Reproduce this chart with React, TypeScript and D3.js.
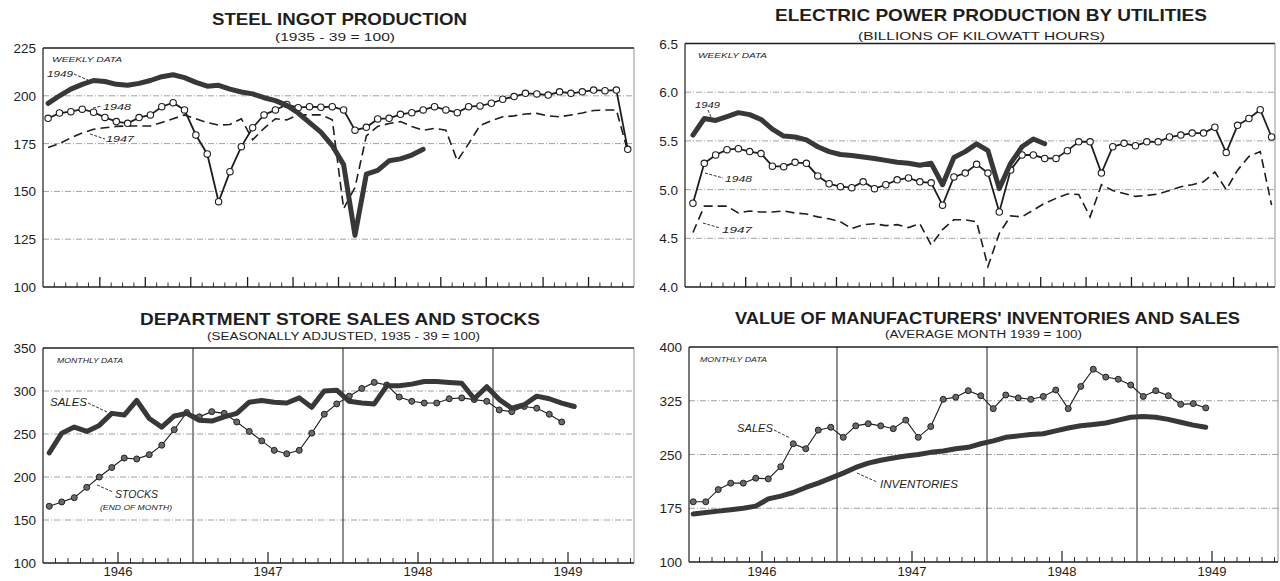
import React from 'react';
import * as d3 from 'd3';

// ---------- DATA ----------
const steelTicks = [100, 125, 150, 175, 200, 225];
const steel1949 = [196, 200, 203.5, 206, 208, 207.5, 206, 205.5, 206.5, 208, 210, 211, 209.5, 207, 205, 205.5, 203.5, 202, 201, 199, 197.5, 195, 191, 186, 181, 174, 164, 127, 159, 161, 166, 167, 169, 172];
const steel1948 = [188.2, 191, 191.7, 193, 191.4, 188.7, 186.5, 185.6, 188.6, 190, 194.3, 196.4, 192.6, 179.5, 169.6, 144.6, 160.3, 173.4, 183.3, 190, 192.6, 195.5, 193.8, 194.3, 194, 194.3, 192.6, 182, 183.5, 187.9, 188.2, 190.3, 191.2, 192.6, 194.3, 192.6, 191.2, 194.3, 194.7, 196.1, 198.2, 199.6, 201.3, 201, 200.4, 202.1, 201.3, 202.1, 203, 202.7, 203, 172];
const steel1947 = [173, 175, 178, 180.5, 182.5, 183.3, 184, 184.2, 184.2, 184.2, 186, 188, 190, 188, 186, 184.7, 185, 188, 177, 183, 188, 187.4, 190, 190, 190, 187.5, 141, 152, 179, 184, 185.5, 186.5, 184, 182, 183, 182, 166, 175, 184.5, 187, 189, 189.5, 190.5, 190.8, 189.5, 189, 190, 191, 192.3, 192.6, 192.6, 171];

const powerTicks = [4.0, 4.5, 5.0, 5.5, 6.0, 6.5];
const power1949 = [5.56, 5.73, 5.71, 5.75, 5.79, 5.77, 5.72, 5.62, 5.55, 5.54, 5.51, 5.44, 5.39, 5.36, 5.35, 5.335, 5.32, 5.30, 5.28, 5.27, 5.25, 5.27, 5.05, 5.33, 5.39, 5.47, 5.40, 5.01, 5.27, 5.44, 5.52, 5.47];
const power1948 = [4.86, 5.27, 5.355, 5.41, 5.42, 5.39, 5.37, 5.24, 5.235, 5.28, 5.27, 5.14, 5.06, 5.03, 5.02, 5.08, 5.01, 5.05, 5.10, 5.12, 5.08, 5.07, 4.84, 5.13, 5.17, 5.26, 5.17, 4.77, 5.20, 5.355, 5.355, 5.32, 5.32, 5.40, 5.49, 5.49, 5.17, 5.44, 5.475, 5.45, 5.49, 5.49, 5.54, 5.56, 5.58, 5.58, 5.64, 5.38, 5.66, 5.73, 5.82, 5.54];
const power1947 = [4.56, 4.83, 4.83, 4.83, 4.76, 4.78, 4.77, 4.77, 4.78, 4.76, 4.75, 4.72, 4.70, 4.67, 4.60, 4.64, 4.65, 4.63, 4.64, 4.61, 4.65, 4.43, 4.59, 4.69, 4.69, 4.67, 4.21, 4.55, 4.73, 4.72, 4.79, 4.86, 4.91, 4.955, 4.95, 4.72, 5.05, 4.99, 4.96, 4.93, 4.94, 4.955, 4.99, 5.03, 5.05, 5.08, 5.18, 5.00, 5.20, 5.34, 5.39, 4.84];

const monthBoundaryWeeks = [5, 9, 13, 18, 22, 26, 31, 35, 39, 44, 48];

const deptTicks = [100, 150, 200, 250, 300, 350];
const deptSales = [228, 251, 258, 253, 260, 274, 272, 289, 268, 258, 271, 274,
  266, 265, 270, 274, 287, 289, 287, 286, 292, 281, 300, 301,
  288, 286, 285, 306, 306, 308, 311, 311, 310, 309, 291, 305,
  290, 280, 284, 294, 291, 286, 282];
const deptStocks = [166, 171, 176, 188, 200, 211, 222, 221, 226, 237, 255, 275,
  270, 276, 274, 264, 253, 242, 231, 227, 231, 251, 273, 285,
  294, 303, 310, 307, 293, 288, 286, 286, 291, 292, 290, 288,
  278, 276, 282, 280, 273, 264];

const mfgTicks = [100, 175, 250, 325, 400];
const mfgSales = [184, 184, 201, 210, 210, 217, 216, 233, 265, 258, 284, 288,
  274, 290, 293, 290, 286, 298, 274, 289, 327, 330, 339, 332,
  314, 333, 329, 327, 331, 340, 314, 345, 369, 358, 355, 347,
  331, 339, 332, 320, 321, 315];
const mfgInventories = [167, 169, 171, 173, 175, 178, 188, 192, 197, 204, 210, 217,
  224, 232, 238, 242, 245, 248, 250, 253, 255, 258, 260, 265,
  269, 274, 276, 278, 279, 283, 287, 290, 292, 294, 298, 302,
  303, 302, 299, 295, 291, 288];

const yearLabels = ['1946', '1947', '1948', '1949'];

// ---------- STYLE ----------
const FONT = "'Liberation Sans', Arial, sans-serif";
const INK = '#1e1e1e';
const THICK = '#383838';
const GRID = '#8a8a8a';

type Ser = { values: number[]; kind: 'thick' | 'circle' | 'dash' | 'dot' };

function Frame({ left, right, top, bottom }: any) {
  return (
    <g>
      <line x1={left} x2={right} y1={top} y2={top} stroke={INK} strokeWidth={1.4} />
      <line x1={left} x2={left} y1={top} y2={bottom} stroke={INK} strokeWidth={1.2} />
      <line x1={right} x2={right} y1={top} y2={bottom} stroke="#777" strokeWidth={0.8} />
      <line x1={left} x2={right} y1={bottom} y2={bottom} stroke={INK} strokeWidth={1.5} />
    </g>
  );
}

function YAxis({ y, ticks, left, right, fmt }: any) {
  return (
    <g>
      {ticks.map((t: number, i: number) => (
        <g key={i}>
          {i > 0 && i < ticks.length - 1 && (
            <line x1={left} x2={right} y1={y(t)} y2={y(t)} stroke={GRID} strokeWidth={0.8} strokeDasharray="6 2 1 2" />
          )}
          <text x={left - 7} y={y(t) + 5} textAnchor="end" fontFamily={FONT} fontSize={13.5} fill={INK}>{fmt(t)}</text>
        </g>
      ))}
    </g>
  );
}

function drawSeries(s: Ser, px: (i: number) => number, y: any, key: string) {
  const line = d3.line<number>().x((_, i) => px(i)).y((v) => y(v));
  const d = line(s.values) || '';
  if (s.kind === 'thick') return <path key={key} d={d} fill="none" stroke={THICK} strokeWidth={5} strokeLinejoin="round" strokeLinecap="round" />;
  if (s.kind === 'dash') return <path key={key} d={d} fill="none" stroke={INK} strokeWidth={1.6} strokeDasharray="9 5" />;
  if (s.kind === 'circle') return (
    <g key={key}>
      <path d={d} fill="none" stroke={INK} strokeWidth={1.8} />
      {s.values.map((v, i) => <circle key={i} cx={px(i)} cy={y(v)} r={3.2} fill="#fff" stroke={INK} strokeWidth={1.1} />)}
    </g>
  );
  return (
    <g key={key}>
      <path d={d} fill="none" stroke={INK} strokeWidth={1.1} />
      {s.values.map((v, i) => <circle key={i} cx={px(i)} cy={y(v)} r={3} fill="#6a6a6a" stroke="#222" strokeWidth={1} />)}
    </g>
  );
}

function WeeklyPanel(p: any) {
  const x = d3.scaleLinear().domain([0, 52]).range([p.left, p.right]);
  const y = d3.scaleLinear().domain([p.ticks[0], p.ticks[p.ticks.length - 1]]).range([p.bottom, p.top]);
  const px = (i: number) => x(i + p.pointShift);
  const weekTicks = d3.range(1, 52);
  return (
    <g>
      <YAxis y={y} ticks={p.ticks} left={p.left} right={p.right} fmt={p.fmt} />
      {weekTicks.map((k) => {
        const xx = x(k + p.tickShift);
        const major = monthBoundaryWeeks.includes(k);
        return <line key={k} x1={xx} x2={xx} y1={p.bottom} y2={p.bottom - (major ? 10 : 4.5)} stroke={INK} strokeWidth={major ? 1.3 : 0.9} />;
      })}
      <Frame {...p} />
      {p.series.map((s: Ser, i: number) => drawSeries(s, px, y, 's' + i))}
    </g>
  );
}

function MonthlyPanel(p: any) {
  const months = (p.right - p.origin) / 12.5;
  const x = d3.scaleLinear().domain([0, months]).range([p.origin, p.right]);
  const y = d3.scaleLinear().domain([p.ticks[0], p.ticks[p.ticks.length - 1]]).range([p.bottom, p.top]);
  const px = (i: number) => x(i + 0.5);
  const mTicks = d3.range(1, Math.floor(months) + 1);
  return (
    <g>
      <YAxis y={y} ticks={p.ticks} left={p.left} right={p.right} fmt={(t: number) => String(t)} />
      {mTicks.map((k) => {
        const xx = x(k);
        if (k % 12 === 0) return <line key={k} x1={xx} x2={xx} y1={p.top} y2={p.bottom} stroke={INK} strokeWidth={1} />;
        const mid = k % 12 === 6;
        return <line key={k} x1={xx} x2={xx} y1={p.bottom} y2={p.bottom - (mid ? 11 : 5)} stroke={INK} strokeWidth={mid ? 1.2 : 0.9} />;
      })}
      {yearLabels.map((lab, i) => (
        <text key={lab} x={x(i * 12 + 6)} y={576} textAnchor="middle" fontFamily={FONT} fontSize={13} fill={INK}>{lab}</text>
      ))}
      <Frame {...p} />
      {p.series.map((s: Ser, i: number) => drawSeries(s, px, y, 's' + i))}
    </g>
  );
}

function Title({ x, y, w, size, text, bold }: any) {
  return (
    <text x={x} y={y} textLength={w} lengthAdjust="spacingAndGlyphs" fontFamily={FONT} fontSize={size} fontWeight={bold ? 'bold' : 'normal'} fill={INK}>{text}</text>
  );
}

function Note({ x, y, w, size, text }: any) {
  return (
    <text x={x} y={y} textLength={w} lengthAdjust="spacingAndGlyphs" fontFamily={FONT} fontSize={size} fontStyle="italic" fill={INK}>{text}</text>
  );
}

function Leader({ x1, y1, x2, y2 }: any) {
  return <line x1={x1} y1={y1} x2={x2} y2={y2} stroke={INK} strokeWidth={0.9} strokeDasharray="3 1.5" />;
}

export default function App() {
  return (
    <svg width={1280} height={581} style={{ position: 'absolute', left: 0, top: 0, background: '#fff' }}>
      <rect x={0} y={0} width={1280} height={581} fill="#fff" />
      {/* Steel */}
      <Title x={212} y={25} w={255} size={16.5} bold text="STEEL INGOT PRODUCTION" />
      <Title x={275} y={41} w={120} size={11.5} text="(1935 - 39 = 100)" />
      <WeeklyPanel left={43} right={634} top={48} bottom={287} ticks={steelTicks} fmt={(t: number) => String(t)}
        tickShift={0} pointShift={0.45}
        series={[{ values: steel1947, kind: 'dash' }, { values: steel1948, kind: 'circle' }, { values: steel1949, kind: 'thick' }]} />
      <Note x={52} y={62} w={70} size={7} text="WEEKLY DATA" />
      <Note x={47} y={77} w={26} size={9.5} text="1949" />
      <Leader x1={74} y1={74} x2={88} y2={80} />
      <Note x={103} y={110} w={28} size={9.5} text="1948" />
      <Leader x1={93} y1={108} x2={102} y2={106} />
      <Note x={106} y={142} w={28} size={9.5} text="1947" />
      <Leader x1={90} y1={134} x2={105} y2={139} />

      {/* Electric */}
      <Title x={775} y={20.5} w={432} size={17} bold text="ELECTRIC POWER PRODUCTION BY UTILITIES" />
      <Title x={858} y={40} w={247} size={11.5} text="(BILLIONS OF KILOWATT HOURS)" />
      <WeeklyPanel left={685} right={1275} top={43.5} bottom={287} ticks={powerTicks} fmt={(t: number) => t.toFixed(1)}
        tickShift={0.35} pointShift={0.7}
        series={[{ values: power1947, kind: 'dash' }, { values: power1948, kind: 'circle' }, { values: power1949, kind: 'thick' }]} />
      <Note x={698} y={58} w={69} size={7} text="WEEKLY DATA" />
      <Note x={695} y={108} w={25} size={9.5} text="1949" />
      <Leader x1={708} y1={110} x2={711} y2={117} />
      <Note x={725} y={182} w={27} size={9.5} text="1948" />
      <Leader x1={705} y1={173} x2={723} y2={178} />
      <Note x={722} y={233} w={30} size={9.5} text="1947" />
      <Leader x1={703} y1={223} x2={720} y2={228} />

      {/* Department store */}
      <Title x={140} y={325} w={400} size={16.5} bold text="DEPARTMENT STORE SALES AND STOCKS" />
      <Title x={207} y={340} w={273} size={10} text="(SEASONALLY ADJUSTED, 1935 - 39 = 100)" />
      <MonthlyPanel left={43} origin={43} right={634} top={348} bottom={563} ticks={deptTicks}
        series={[{ values: deptStocks, kind: 'dot' }, { values: deptSales, kind: 'thick' }]} />
      <Note x={57} y={363} w={66} size={7} text="MONTHLY DATA" />
      <Note x={50} y={406} w={37} size={11} text="SALES" />
      <Leader x1={88} y1={403} x2={107} y2={412} />
      <Note x={115} y={498} w={43} size={11} text="STOCKS" />
      <Leader x1={97} y1={485} x2={113} y2={492} />
      <Note x={100} y={510} w={72} size={7} text="(END OF MONTH)" />

      {/* Manufacturers */}
      <Title x={735} y={324} w={505} size={16.5} text="VALUE OF MANUFACTURERS' INVENTORIES AND SALES" bold />
      <Title x={885} y={338} w={197} size={10} text="(AVERAGE MONTH 1939 = 100)" />
      <MonthlyPanel left={689} origin={687} right={1278} top={347} bottom={562} ticks={mfgTicks}
        series={[{ values: mfgInventories, kind: 'thick' }, { values: mfgSales, kind: 'dot' }]} />
      <Note x={700} y={362} w={67} size={7} text="MONTHLY DATA" />
      <Note x={737} y={432} w={36} size={11} text="SALES" />
      <Leader x1={774} y1={430} x2={790} y2={438} />
      <Note x={880} y={488} w={78} size={11} text="INVENTORIES" />
      <Leader x1={857} y1={473} x2={877} y2={482} />
    </svg>
  );
}
